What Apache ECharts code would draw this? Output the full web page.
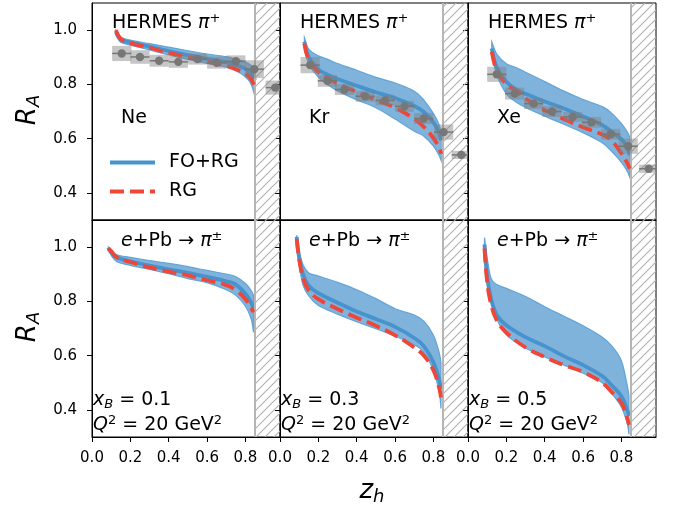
<!DOCTYPE html>
<html><head><meta charset="utf-8">
<script src="https://cdn.jsdelivr.net/npm/echarts@6/dist/echarts.min.js"></script>
<style>html,body{margin:0;padding:0;background:#fff}#c{width:683px;height:515px}</style>
</head><body><div id="c"></div>
<script>
// ---- axes ----
const xTicks = [0.0, 0.2, 0.4, 0.6, 0.8];
const yTicks = [0.4, 0.6, 0.8, 1.0];
const xRange = [0, 0.98];
const yRange = [0.3, 1.1];
const cutRange = [0.85, 0.98];   // hatched (excluded) region in z_h
const binHalf = 0.05;            // HERMES z-bin half width

// ---- HERMES pi+ : Ne ----
const neZ  = [0.125,0.15,0.2,0.3,0.4,0.5,0.6,0.7,0.75,0.8,0.83,0.85];
const neHi = [1.000,0.975,0.963,0.950,0.937,0.924,0.912,0.902,0.893,0.882,0.870,0.858];
const neLo = [0.985,0.955,0.945,0.927,0.909,0.892,0.877,0.863,0.850,0.828,0.800,0.754];
const neFO = [0.993,0.965,0.955,0.939,0.923,0.908,0.894,0.882,0.872,0.857,0.840,0.815];
const neRG = [1.000,0.968,0.952,0.935,0.916,0.900,0.884,0.868,0.856,0.840,0.818,0.788];
const neDataZ   = [0.155,0.25,0.35,0.45,0.55,0.65,0.75,0.846,0.955];
const neDataR   = [0.914,0.901,0.887,0.883,0.893,0.880,0.885,0.856,0.788];
const neDataSys = [0.028,0.025,0.022,0.022,0.020,0.022,0.022,0.033,0.026];

// ---- HERMES pi+ : Kr ----
const krZ  = [0.127,0.15,0.2,0.25,0.3,0.4,0.5,0.6,0.7,0.75,0.8,0.83,0.84];
const krHi = [0.973,0.930,0.905,0.892,0.877,0.852,0.826,0.805,0.775,0.742,0.692,0.650,0.618];
const krLo = [0.938,0.875,0.827,0.798,0.776,0.743,0.714,0.672,0.627,0.609,0.572,0.537,0.519];
const krFO = [0.957,0.900,0.855,0.835,0.820,0.795,0.771,0.750,0.720,0.698,0.660,0.620,0.593];
const krRG = [0.950,0.890,0.845,0.822,0.803,0.772,0.742,0.714,0.673,0.643,0.602,0.566,0.544];
const krDataZ   = [0.157,0.247,0.336,0.444,0.548,0.649,0.749,0.853,0.945];
const krDataR   = [0.871,0.813,0.781,0.756,0.741,0.719,0.674,0.624,0.540];
const krDataSys = [0.030,0.022,0.020,0.020,0.018,0.020,0.020,0.028,0.015];

// ---- HERMES pi+ : Xe ----
const xeZ  = [0.124,0.15,0.2,0.25,0.3,0.4,0.5,0.6,0.7,0.75,0.8,0.83,0.843];
const xeHi = [0.957,0.912,0.876,0.862,0.845,0.810,0.775,0.744,0.718,0.693,0.655,0.625,0.606];
const xeLo = [0.914,0.835,0.765,0.735,0.715,0.683,0.653,0.622,0.585,0.552,0.512,0.480,0.458];
const xeFO = [0.932,0.862,0.810,0.782,0.765,0.737,0.711,0.682,0.650,0.625,0.597,0.570,0.538];
const xeRG = [0.920,0.850,0.800,0.776,0.748,0.705,0.672,0.642,0.615,0.592,0.545,0.510,0.489];
const xeDataZ   = [0.150,0.243,0.342,0.438,0.546,0.644,0.744,0.835,0.942];
const xeDataR   = [0.837,0.766,0.729,0.700,0.680,0.660,0.616,0.572,0.489];
const xeDataSys = [0.028,0.022,0.020,0.020,0.018,0.020,0.020,0.028,0.015];

// ---- e+Pb -> pi, xB = 0.1 ----
const p1Z  = [0.085,0.1,0.13,0.2,0.3,0.4,0.5,0.6,0.7,0.75,0.8,0.83,0.842];
const p1Hi = [1.000,0.988,0.972,0.962,0.950,0.940,0.928,0.914,0.901,0.891,0.866,0.840,0.822];
const p1Lo = [0.995,0.970,0.946,0.933,0.918,0.902,0.884,0.869,0.843,0.822,0.782,0.735,0.686];
const p1FO = [0.998,0.980,0.962,0.948,0.932,0.918,0.905,0.890,0.874,0.862,0.828,0.795,0.767];
const p1RG = [0.995,0.985,0.962,0.945,0.925,0.910,0.896,0.878,0.860,0.842,0.808,0.775,0.760];

// ---- e+Pb -> pi, xB = 0.3 ----
const p3Z  = [0.087,0.1,0.12,0.15,0.2,0.3,0.4,0.5,0.6,0.7,0.75,0.8,0.83,0.839];
const p3Hi = [1.044,0.985,0.935,0.905,0.893,0.870,0.843,0.810,0.773,0.750,0.727,0.675,0.610,0.575];
const p3Lo = [1.030,0.935,0.860,0.820,0.785,0.753,0.725,0.699,0.672,0.640,0.612,0.545,0.465,0.405];
const p3FO = [1.038,0.960,0.900,0.858,0.830,0.795,0.763,0.735,0.706,0.665,0.635,0.575,0.510,0.477];
const p3RG = [1.030,0.955,0.885,0.840,0.808,0.772,0.740,0.710,0.675,0.630,0.600,0.545,0.480,0.446];

// ---- e+Pb -> pi, xB = 0.5 ----
const p5Z  = [0.086,0.1,0.12,0.15,0.2,0.3,0.4,0.5,0.6,0.7,0.75,0.8,0.83,0.839];
const p5Hi = [1.035,0.960,0.885,0.862,0.848,0.818,0.780,0.745,0.710,0.668,0.635,0.580,0.490,0.452];
const p5Lo = [0.990,0.880,0.800,0.735,0.677,0.628,0.595,0.565,0.535,0.500,0.460,0.410,0.350,0.310];
const p5FO = [1.010,0.890,0.810,0.750,0.712,0.668,0.635,0.598,0.565,0.525,0.490,0.450,0.400,0.378];
const p5RG = [0.995,0.870,0.790,0.730,0.685,0.630,0.595,0.565,0.540,0.500,0.465,0.425,0.370,0.345];

// ---- build ----
const FONT = 'DejaVu Sans';
const BLUE = '#4693ce', BAND = '#80b3db', BAND_EDGE = '#60a4d8', RED = '#ef4638';

const panels = [
  {row:0,col:0,z:neZ,hi:neHi,lo:neLo,fo:neFO,rg:neRG,dz:neDataZ,dr:neDataR,ds:neDataSys},
  {row:0,col:1,z:krZ,hi:krHi,lo:krLo,fo:krFO,rg:krRG,dz:krDataZ,dr:krDataR,ds:krDataSys},
  {row:0,col:2,z:xeZ,hi:xeHi,lo:xeLo,fo:xeFO,rg:xeRG,dz:xeDataZ,dr:xeDataR,ds:xeDataSys},
  {row:1,col:0,z:p1Z,hi:p1Hi,lo:p1Lo,fo:p1FO,rg:p1RG},
  {row:1,col:1,z:p3Z,hi:p3Hi,lo:p3Lo,fo:p3FO,rg:p3RG},
  {row:1,col:2,z:p5Z,hi:p5Hi,lo:p5Lo,fo:p5FO,rg:p5RG}
];

// hatch pattern
const hc = document.createElement('canvas');
const HS = 9; hc.width = HS; hc.height = HS;
const hx = hc.getContext('2d');
hx.strokeStyle = '#b0b0b0'; hx.lineWidth = 1.1;
hx.beginPath();
hx.moveTo(0, HS); hx.lineTo(HS, 0);
hx.moveTo(-1, 1); hx.lineTo(1, -1);
hx.moveTo(HS-1, HS+1); hx.lineTo(HS+1, HS-1);
hx.stroke();

const grids = [], xAxes = [], yAxes = [], series = [];
const PL = 92, PT = 3, PW = 188, PH = 217;
const zip = (a, b) => a.map((v, i) => [v, b[i]]);
const SMOOTH = 0.4;

// smooth (Catmull-Rom -> cubic Bezier) path segment through pixel points
function curveTo(pts) {
  let d = '';
  const clamp = (v, a, b) => Math.max(Math.min(a, b), Math.min(Math.max(a, b), v));
  for (let k = 0; k < pts.length - 1; k++) {
    const p0 = pts[k - 1] || pts[k], p1 = pts[k], p2 = pts[k + 1], p3 = pts[k + 2] || pts[k + 1];
    const c1x = clamp(p1[0] + (p2[0] - p0[0]) / 6, p1[0], p2[0]);
    const c1y = p1[1] + (p2[1] - p0[1]) / 6;
    const c2x = clamp(p2[0] - (p3[0] - p1[0]) / 6, p1[0], p2[0]);
    const c2y = p2[1] - (p3[1] - p1[1]) / 6;
    d += ' C' + c1x + ' ' + c1y + ' ' + c2x + ' ' + c2y + ' ' + p2[0] + ' ' + p2[1];
  }
  return d;
}

function renderBand(params, api) {
  if (params.dataIndexInside !== 0) return null;
  const n = params.dataInsideLength;
  const up = [], dn = [];
  for (let k = 0; k < n; k++) {
    up.push(api.coord([api.value(0, k), api.value(2, k)]));
    dn.push(api.coord([api.value(0, k), api.value(1, k)]));
  }
  dn.reverse();
  const d = 'M' + up[0][0] + ' ' + up[0][1] + curveTo(up) +
    ' L' + dn[0][0] + ' ' + dn[0][1] + curveTo(dn) + ' Z';
  return {type: 'path', shape: {pathData: d},
    style: {fill: BAND, stroke: BAND_EDGE, lineWidth: 1.2}};
}

function renderHermes(params, api) {
  const z = api.value(0), r = api.value(1), s = api.value(2);
  const a = api.coord([z - binHalf, r + s]);
  const b = api.coord([z + binHalf, r - s]);
  const l = api.coord([z - binHalf, r]);
  const rr = api.coord([z + binHalf, r]);
  const c = api.coord([z, r]);
  return {type: 'group', children: [
    {type: 'rect', shape: {x: a[0], y: a[1], width: b[0] - a[0], height: b[1] - a[1]}, style: {fill: 'rgba(128,128,128,0.45)'}},
    {type: 'line', shape: {x1: l[0], y1: l[1], x2: rr[0], y2: rr[1]}, style: {stroke: '#777', lineWidth: 1.5}},
    {type: 'circle', shape: {cx: c[0], cy: c[1], r: 4.2}, style: {fill: '#777'}}
  ]};
}

panels.forEach((p, i) => {
  const bottom = p.row === 1, left = p.col === 0;
  grids.push({left: PL + PW * p.col, top: PT + PH * p.row, width: PW, height: PH,
    show: true, borderColor: '#000', borderWidth: 1, containLabel: false});
  xAxes.push({type: 'value', gridIndex: i, min: xRange[0], max: xRange[1],
    axisLine: {show: true, lineStyle: {color: '#000', width: 1}},
    axisTick: {show: bottom, length: 5, lineStyle: {color: '#000'}, customValues: xTicks},
    axisLabel: {show: bottom, customValues: xTicks, margin: 14, fontFamily: FONT, fontSize: 15, color: '#000',
      formatter: v => v.toFixed(1)},
    splitLine: {show: false}});
  yAxes.push({type: 'value', gridIndex: i, min: yRange[0], max: yRange[1],
    axisLine: {show: true, lineStyle: {color: '#000', width: 1}},
    axisTick: {show: true, length: 5, lineStyle: {color: '#000'}, customValues: yTicks},
    axisLabel: {show: left, customValues: yTicks, margin: 15, fontFamily: FONT, fontSize: 15, color: '#000',
      formatter: v => v.toFixed(1)},
    splitLine: {show: false}});
  // uncertainty band (lower edge, upper edge)
  series.push({type: 'custom', xAxisIndex: i, yAxisIndex: i, silent: true, z: 2, clip: true,
    data: p.z.map((v, k) => [v, p.lo[k], p.hi[k]]), encode: {x: 0, y: [1, 2]},
    renderItem: renderBand});
  // hatched region
  series.push({type: 'line', xAxisIndex: i, yAxisIndex: i, data: [], silent: true, z: 3,
    markArea: {silent: true, itemStyle: {color: {image: hc, repeat: 'repeat'}, borderWidth: 0},
      data: [[{xAxis: cutRange[0]}, {xAxis: cutRange[1]}]]},
    markLine: {silent: true, symbol: 'none', label: {show: false},
      lineStyle: {color: '#b5b5b5', width: 2, type: 'solid'}, data: [{xAxis: cutRange[0]}]}});
  // central lines
  series.push({name: 'FO+RG', type: 'line', xAxisIndex: i, yAxisIndex: i, data: zip(p.z, p.fo),
    symbol: 'none', smooth: SMOOTH, z: 4, itemStyle: {color: BLUE},
    lineStyle: {color: BLUE, width: 3.8}});
  series.push({name: 'RG', type: 'line', xAxisIndex: i, yAxisIndex: i, data: zip(p.z, p.rg),
    symbol: 'none', smooth: SMOOTH, z: 5, itemStyle: {color: RED},
    lineStyle: {color: RED, width: 3.8, type: [14, 6]}});
  if (p.dz) {
    series.push({type: 'custom', xAxisIndex: i, yAxisIndex: i, clip: true, z: 6,
      data: p.dz.map((v, k) => [v, p.dr[k], p.ds[k]]),
      encode: {x: 0, y: 1}, renderItem: renderHermes});
  }
});

// ---- text annotations ----
const rich = {
  n:   {fontFamily: FONT, fontSize: 19, fill: '#000', lineHeight: 22, verticalAlign: 'middle'},
  i:   {fontFamily: FONT, fontSize: 19, fontStyle: 'italic', fill: '#000', lineHeight: 22, verticalAlign: 'middle'},
  sup: {fontFamily: FONT, fontSize: 13, fill: '#000', lineHeight: 16, verticalAlign: 'top'},
  hi:  {fontFamily: FONT, fontSize: 13, fill: '#000', lineHeight: 12, verticalAlign: 'top'},
  sub: {fontFamily: FONT, fontSize: 13, fontStyle: 'italic', fill: '#000', lineHeight: 11, verticalAlign: 'bottom'}
};
const graphics = [];
const txt = (x, y, text) => graphics.push({type: 'text', x: x, y: y, z: 100,
  style: {text: text, rich: rich, align: 'left', verticalAlign: 'middle'}});
const nuclei = ['Ne', 'Kr', 'Xe'];
const xBvals = ['0.1', '0.3', '0.5'];
[0, 1, 2].forEach(c => {
  const x0 = PL + PW * c;
  txt(x0 + 20, 23, '{n|HERMES }{i|π}{sup|+}');
  txt(x0 + 29, 118, '{n|' + nuclei[c] + '}');
  txt(x0 + 29, 241, '{i|e}{n|+Pb}{n| → }{i|π}{sup|±}');
  txt(x0 + 1, 400, '{i|x}{sub|B}{n| = ' + xBvals[c] + '}');
  txt(x0 + 1, 425, '{i|Q}{hi|2}{n| = 20 GeV}{hi|2}');
});
const bigRich = {
  m: {fontFamily: FONT, fontSize: 26, fontStyle: 'italic', fill: '#000', lineHeight: 30, verticalAlign: 'middle'},
  s: {fontFamily: FONT, fontSize: 18, fontStyle: 'italic', fill: '#000', lineHeight: 14, verticalAlign: 'bottom'}
};
[110, 327].forEach(y => graphics.push({type: 'text', x: 28, y: y, z: 100, rotation: Math.PI / 2,
  style: {text: '{m|R}{s|A}', rich: bigRich, align: 'center', verticalAlign: 'middle'}}));
graphics.push({type: 'text', x: 372, y: 491, z: 100,
  style: {text: '{m|z}{s|h}', rich: bigRich, align: 'center', verticalAlign: 'middle'}});

const chart = echarts.init(document.getElementById('c'), null, {renderer: 'canvas'});
chart.setOption({
  animation: false,
  backgroundColor: '#fff',
  grid: grids, xAxis: xAxes, yAxis: yAxes, series: series,
  legend: {data: [{name: 'FO+RG'}, {name: 'RG'}], orient: 'vertical', left: 108, top: 153, z: 50,
    itemWidth: 45, itemHeight: 20, itemGap: 10, padding: 0, selectedMode: false,
    itemStyle: {opacity: 0}, lineStyle: {width: 4},
    textStyle: {fontFamily: FONT, fontSize: 19, color: '#000', padding: [0, 0, 0, 9]}},
  graphic: graphics
});
</script></body></html>
